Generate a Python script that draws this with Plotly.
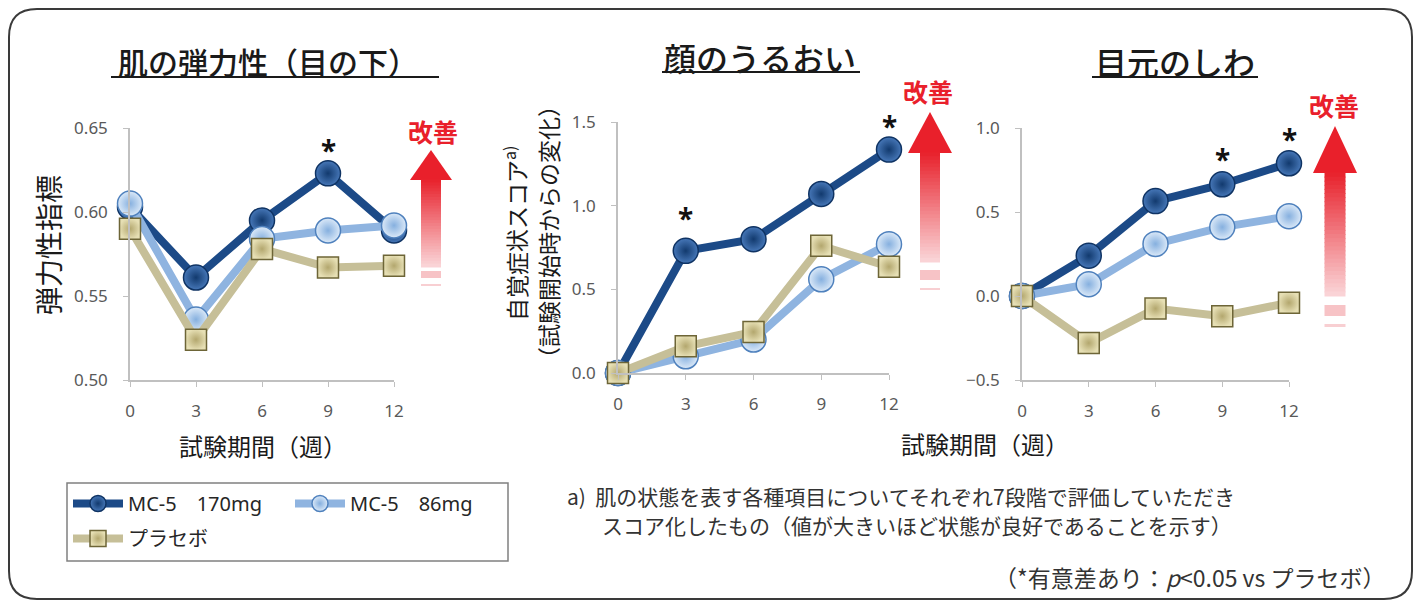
import plotly.graph_objects as go

W, H = 1421, 606
OFF = 8  # page body margin of the browser, compensated in layout coordinates

# ---------------- data ----------------
weeks = [0, 3, 6, 9, 12]
week_labels = ["0", "3", "6", "9", "12"]
series_names = ["MC-5　170mg", "MC-5　86mg", "プラセボ"]

elast_170 = [0.603, 0.561, 0.595, 0.623, 0.589]
elast_86 = [0.605, 0.536, 0.584, 0.589, 0.592]
elast_pl = [0.590, 0.524, 0.578, 0.567, 0.568]

moist_170 = [0.0, 0.73, 0.80, 1.07, 1.335]
moist_86 = [0.0, 0.10, 0.20, 0.56, 0.77]
moist_pl = [0.0, 0.16, 0.245, 0.76, 0.635]

wrinkle_170 = [0.0, 0.24, 0.565, 0.665, 0.79]
wrinkle_86 = [0.0, 0.07, 0.31, 0.41, 0.475]
wrinkle_pl = [0.0, -0.28, -0.075, -0.12, -0.04]

panel_titles = ["肌の弾力性（目の下）", "顔のうるおい", "目元のしわ"]
y_ticks_1 = [0.50, 0.55, 0.60, 0.65]
y_ticks_2 = [0.0, 0.5, 1.0, 1.5]
y_ticks_3 = [-0.5, 0.0, 0.5, 1.0]

# significant points: (panel index, week index, extra lift in px)
significant = [(0, 3, 27), (1, 1, 37), (1, 4, 28), (2, 3, 29), (2, 4, 28)]

# ---------------- helpers ----------------
def X(px):
    return (px - OFF) / W

def Y(py):
    return 1 - (py - OFF) / H

JP = "Noto Sans CJK JP"
NUM = "Noto Sans, Noto Sans CJK JP"

styles = [
    dict(line=dict(color="#1c4a87", width=8),
         marker=dict(symbol="circle", size=25, color="#4677b8",
                     gradient=dict(type="radial", color="#123a6e"),
                     line=dict(color="#0f3363", width=1.5))),
    dict(line=dict(color="#8fb4e0", width=8),
         marker=dict(symbol="circle", size=25, color="#dbe9f8",
                     gradient=dict(type="radial", color="#86b0df"),
                     line=dict(color="#4f81bd", width=1.5))),
    dict(line=dict(color="#c6bf98", width=8),
         marker=dict(symbol="square", size=21, color="#e6dfb4",
                     gradient=dict(type="radial", color="#b3a76e"),
                     line=dict(color="#6d6537", width=1.5))),
]

fig = go.Figure()

panels = [
    (elast_170, elast_86, elast_pl),
    (moist_170, moist_86, moist_pl),
    (wrinkle_170, wrinkle_86, wrinkle_pl),
]

for p, data in enumerate(panels):
    xa = "x" if p == 0 else f"x{p+1}"
    ya = "y" if p == 0 else f"y{p+1}"
    for s, vals in enumerate(data):
        fig.add_trace(go.Scatter(
            x=weeks, y=vals, mode="lines+markers", name=series_names[s],
            xaxis=xa, yaxis=ya, cliponaxis=False,
            showlegend=(p == 0),
            legend="legend" if s < 2 else "legend2",
            line=styles[s]["line"], marker=styles[s]["marker"],
            hoverinfo="skip",
        ))

# ---------------- axes ----------------
x_domains = [(130, 394), (618, 889), (1022, 1289)]
y_domains = [(128, 380), (122, 373), (128, 380)]
y_ranges = [[0.50, 0.65], [0.0, 1.5], [-0.5, 1.0]]
y_tickvals = [y_ticks_1, y_ticks_2, y_ticks_3]
y_formats = [".2f", ".1f", ".1f"]

axis_common = dict(showline=True, linecolor="#c0c0c0", linewidth=1.5,
                   ticks="outside", ticklen=5, tickcolor="#c0c0c0",
                   showgrid=False, zeroline=False, fixedrange=True, automargin=False,
                   tickfont=dict(family=NUM, size=17, color="#595959"))

layout_axes = {}
for p in range(3):
    sx = "" if p == 0 else str(p + 1)
    xd = x_domains[p]
    yd = y_domains[p]
    layout_axes[f"xaxis{sx}"] = dict(
        domain=[X(xd[0]), X(xd[1])], anchor=f"y{sx}", range=[0, 12],
        tickvals=weeks, ticktext=week_labels, ticklabelstandoff=10,
        **axis_common)
    layout_axes[f"yaxis{sx}"] = dict(
        domain=[Y(yd[1]), Y(yd[0])], anchor=f"x{sx}", range=y_ranges[p],
        tickvals=y_tickvals[p], tickformat=y_formats[p], ticklabelstandoff=12,
        **axis_common)

fig.update_layout(
    width=W, height=H, margin=dict(l=0, r=0, t=0, b=0, pad=0, autoexpand=False),
    paper_bgcolor="white", plot_bgcolor="white",
    font=dict(family=JP, color="#262626"),
    legend=dict(orientation="h", x=X(68), y=Y(484), xanchor="left", yanchor="top",
                bgcolor="rgba(0,0,0,0)", borderwidth=0,
                font=dict(family=NUM, size=20, color="#262626"),
                itemwidth=50, entrywidth=157, tracegroupgap=0),
    legend2=dict(orientation="h", x=X(68), y=Y(519), xanchor="left", yanchor="top",
                 bgcolor="rgba(0,0,0,0)", borderwidth=0,
                 font=dict(family=NUM, size=20, color="#262626"),
                 itemwidth=50),
    **layout_axes,
)

# ---------------- decorations ----------------
shapes = []
# outer rounded frame
x0, y0, x1, y1, r = 9, 9, 1412, 599, 28
frame = (f"M {X(x0+r)},{Y(y0)} L {X(x1-r)},{Y(y0)} Q {X(x1)},{Y(y0)} {X(x1)},{Y(y0+r)} "
         f"L {X(x1)},{Y(y1-r)} Q {X(x1)},{Y(y1)} {X(x1-r)},{Y(y1)} "
         f"L {X(x0+r)},{Y(y1)} Q {X(x0)},{Y(y1)} {X(x0)},{Y(y1-r)} "
         f"L {X(x0)},{Y(y0+r)} Q {X(x0)},{Y(y0)} {X(x0+r)},{Y(y0)} Z")
shapes.append(dict(type="path", path=frame, xref="paper", yref="paper",
                   line=dict(color="#3a3a3a", width=2), fillcolor="rgba(0,0,0,0)"))

# legend box
shapes.append(dict(type="rect", xref="paper", yref="paper",
                   x0=X(67), x1=X(508), y0=Y(561), y1=Y(483),
                   line=dict(color="#808080", width=1.5)))

# title underlines
for (ux0, ux1, uy) in [(111, 439, 77), (662, 860, 72), (1092, 1258, 77)]:
    shapes.append(dict(type="line", xref="paper", yref="paper",
                       x0=X(ux0), x1=X(ux1), y0=Y(uy), y1=Y(uy),
                       line=dict(color="#1a1a1a", width=2)))


def hexmix(c1, c2, t):
    a = [int(c1[i:i+2], 16) for i in (1, 3, 5)]
    b = [int(c2[i:i+2], 16) for i in (1, 3, 5)]
    return "#" + "".join(f"{round(a[k] + (b[k]-a[k])*t):02x}" for k in range(3))


def add_arrow(cx, tip, head_base, head_half, shaft_half, shaft_bottom, dashes):
    shapes.append(dict(type="path", xref="paper", yref="paper",
                       path=f"M {X(cx-head_half)},{Y(head_base)} L {X(cx)},{Y(tip)} "
                            f"L {X(cx+head_half)},{Y(head_base)} Z",
                       fillcolor="#e9202b", line=dict(width=0)))
    n = 30
    for i in range(n):
        ya0 = head_base - 0.5 + (shaft_bottom - head_base) * i / n
        ya1 = head_base + (shaft_bottom - head_base) * (i + 1) / n + 0.5
        col = hexmix("#e8242e", "#fad3d6", i / (n - 1))
        shapes.append(dict(type="rect", xref="paper", yref="paper",
                           x0=X(cx-shaft_half), x1=X(cx+shaft_half),
                           y0=Y(ya1), y1=Y(ya0), fillcolor=col, line=dict(width=0)))
    for (d0, d1, col) in dashes:
        shapes.append(dict(type="rect", xref="paper", yref="paper",
                           x0=X(cx-shaft_half), x1=X(cx+shaft_half),
                           y0=Y(d1), y1=Y(d0), fillcolor=col, line=dict(width=0)))


add_arrow(431, 150, 180, 21, 10, 267, [(271, 278, "#f7c3c6"), (284, 286, "#f8cfd2")])
add_arrow(930, 112, 153, 22, 10, 262, [(270, 280, "#f7c3c6"), (288, 290, "#f8cfd2")])
add_arrow(1335, 126, 173, 22, 10.5, 296, [(305, 316, "#f7c3c6"), (324, 327, "#f8cfd2")])

fig.update_layout(shapes=shapes)

# ---------------- text ----------------
ann = []

def txt(x, y, text, size, color="#1a1a1a", angle=0, xanchor="center", family=JP, weight=None, **kw):
    font = dict(family=family, size=size, color=color)
    if weight:
        font["weight"] = weight
    ann.append(dict(x=X(x), y=Y(y), xref="paper", yref="paper", text=text,
                    showarrow=False, textangle=angle, xanchor=xanchor, yanchor="middle",
                    font=font, **kw))

# panel titles
txt(268, 61, panel_titles[0], 30, weight=500)
txt(760, 57, panel_titles[1], 32, weight=500)
txt(1175, 61, panel_titles[2], 32, weight=500)

# 改善 labels
for (cx, cy) in [(433, 131), (928, 91), (1334, 105)]:
    txt(cx, cy, "<b>改善</b>", 25, color="#e9202b")

# axis titles
txt(48, 245, "弾力性指標", 28, angle=-90)
txt(515, 233, "自覚症状スコア<sup>a)</sup>", 23, angle=-90)
txt(548, 232, "（試験開始時からの変化）", 23, angle=-90)
txt(263, 445, "試験期間（週）", 24)
txt(985, 443, "試験期間（週）", 24)

# notes
txt(565, 496, "a)  肌の状態を表す各種項目についてそれぞれ7段階で評価していただき", 21,
    color="#333333", xanchor="left")
txt(600, 525, "スコア化したもの（値が大きいほど状態が良好であることを示す）", 21,
    color="#333333", xanchor="left")
txt(1388, 577, "（*有意差あり：<i>p</i>&lt;0.05 vs プラセボ）", 23,
    color="#333333", xanchor="right")

fig.update_layout(annotations=ann)

# significance asterisks (data coordinates)
for (p, wi, lift) in significant:
    sx = "" if p == 0 else str(p + 1)
    vals = panels[p][0]
    fig.add_annotation(x=weeks[wi], y=vals[wi], xref=f"x{sx}", yref=f"y{sx}",
                       text="<b>*</b>", showarrow=False, yshift=lift - 4,
                       font=dict(family=NUM, size=28, color="#111111"))

fig.write_html("out.html")
